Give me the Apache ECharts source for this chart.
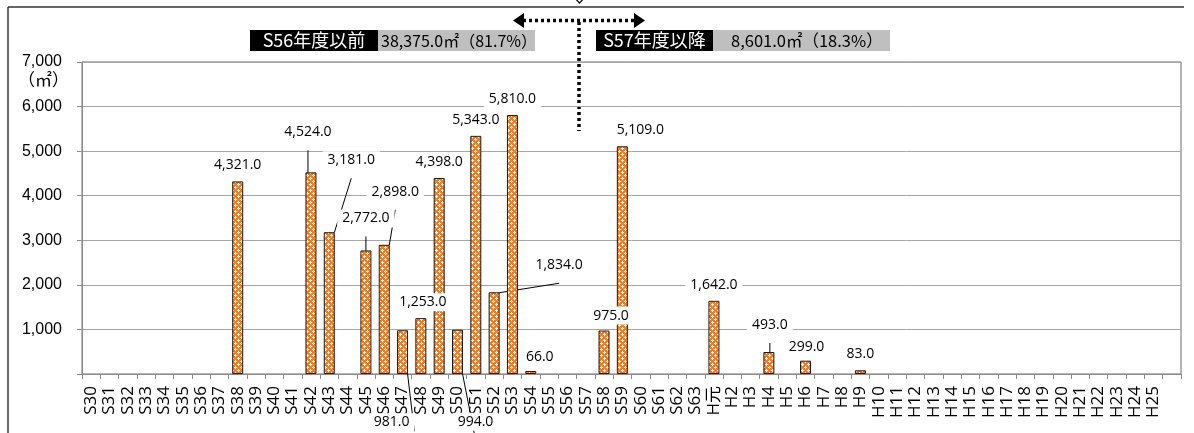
<!DOCTYPE html>
<html>
<head>
<meta charset="utf-8">
<script src="https://cdn.jsdelivr.net/npm/echarts@6/dist/echarts.min.js"></script>
<style>
  html, body { margin: 0; padding: 0; background: #fff; }
  #chart { width: 1194px; height: 433px; }
</style>
</head>
<body>
<div id="chart"></div>
<script>
  // 建築年度（最後は空の枠）
  const categories = [
    'S30', 'S31', 'S32', 'S33', 'S34', 'S35', 'S36', 'S37', 'S38', 'S39',
    'S40', 'S41', 'S42', 'S43', 'S44', 'S45', 'S46', 'S47', 'S48', 'S49',
    'S50', 'S51', 'S52', 'S53', 'S54', 'S55', 'S56', 'S57', 'S58', 'S59',
    'S60', 'S61', 'S62', 'S63', 'H元', 'H2', 'H3', 'H4', 'H5', 'H6',
    'H7', 'H8', 'H9', 'H10', 'H11', 'H12', 'H13', 'H14', 'H15', 'H16',
    'H17', 'H18', 'H19', 'H20', 'H21', 'H22', 'H23', 'H24', 'H25', ''
  ];

  // 延床面積（㎡）
  const areas = [
    null, null, null, null, null, null, null, null, 4321, null,
    null, null, 4524, 3181, null, 2772, 2898, 981, 1253, 4398,
    994, 5343, 1834, 5810, 66, null, null, null, 975, 5109,
    null, null, null, null, 1642, null, null, 493, null, 299,
    null, null, 83, null, null, null, null, null, null, null,
    null, null, null, null, null, null, null, null, null, null
  ];

  const yTicks = [0, 1000, 2000, 3000, 4000, 5000, 6000, 7000];

  // 新耐震の境目
  const boundaryYear = 'S57';

  // ラベルの移動量 [dx, dy, 引き出し線]
  const labelMoves = {
    S42: [-3, -24, true],
    S43: [22, -56, true],
    S45: [0, -16, true],
    S46: [11, -37, true],
    S47: [-11, 108, true],
    S48: [2, 0],
    S50: [18, 108, true],
    S52: [65, -11, true],
    S54: [9, 2],
    S58: [7, 1],
    S59: [18, 0],
    H4: [1, -11, true],
    H6: [1, 2]
  };

  const fmt1 = v => v.toLocaleString('en-US', { minimumFractionDigits: 1, maximumFractionDigits: 1 });

  // 前後の合計
  const cut = categories.indexOf(boundaryYear);
  const sumBefore = areas.slice(0, cut).reduce((a, b) => a + (b || 0), 0);
  const sumAfter = areas.slice(cut).reduce((a, b) => a + (b || 0), 0);
  const total = sumBefore + sumAfter;
  const beforeText = fmt1(sumBefore) + '㎡（' + (sumBefore / total * 100).toFixed(1) + '%）';
  const afterText = fmt1(sumAfter) + '㎡（' + (sumAfter / total * 100).toFixed(1) + '%）';

  // 棒の網目模様
  function makePattern() {
    const c = document.createElement('canvas');
    c.width = 6;
    c.height = 6;
    const ctx = c.getContext('2d');
    ctx.fillStyle = '#EF7E2E';
    ctx.fillRect(0, 0, 6, 6);
    ctx.fillStyle = '#ffffff';
    [[1, 0], [0, 1], [1, 1], [2, 1], [1, 2], [4, 3], [3, 4], [4, 4], [5, 4], [4, 5]].forEach(p => {
      ctx.fillRect(p[0], p[1], 1, 1);
    });
    return c;
  }

  const barData = areas.map((v, i) => {
    const m = labelMoves[categories[i]];
    if (v == null) return null;
    const item = { value: v };
    if (m) {
      item.label = { offset: [m[0], m[1]] };
      item.labelLine = { show: !!m[2] };
    }
    return item;
  });

  const cjk = '"Noto Sans CJK JP", "Noto Sans", sans-serif';

  const myChart = echarts.init(document.getElementById('chart'));

  const option = {
    animation: false,
    backgroundColor: '#fff',
    grid: {
      left: 82,
      right: 13,
      top: 62,
      bottom: 59,
      show: true,
      borderColor: '#6f6f6f',
      borderWidth: 1,
      containLabel: false,
      outerBoundsMode: 'none'
    },
    xAxis: {
      type: 'category',
      data: categories,
      axisLine: { lineStyle: { color: '#8c8c8c' } },
      axisTick: { show: true, length: 5, lineStyle: { color: '#8c8c8c' } },
      axisLabel: {
        interval: 0,
        rotate: 90,
        margin: 12,
        fontSize: 17,
        color: '#000',
        fontFamily: '"Open Sans", "Noto Sans CJK JP", sans-serif'
      }
    },
    yAxis: {
      type: 'value',
      min: yTicks[0],
      max: yTicks[yTicks.length - 1],
      interval: yTicks[1] - yTicks[0],
      axisLine: { show: true, lineStyle: { color: '#8c8c8c' } },
      axisTick: { show: true, length: 5, lineStyle: { color: '#8c8c8c' } },
      splitLine: { lineStyle: { color: '#a6a6a6' } },
      axisLabel: {
        margin: 20,
        fontSize: 16,
        color: '#000',
        fontFamily: '"Liberation Sans", Arial, sans-serif',
        formatter: v => (v === 0 ? '' : v.toLocaleString('en-US'))
      }
    },
    series: [
      {
        type: 'bar',
        data: barData,
        barWidth: 11,
        itemStyle: {
          color: { image: makePattern(), repeat: 'repeat' },
          borderColor: '#1a1a1a',
          borderWidth: 1
        },
        label: {
          show: true,
          position: 'top',
          distance: 7,
          fontSize: 14,
          color: '#000',
          fontFamily: '"Open Sans", sans-serif',
          backgroundColor: '#fff',
          padding: [2, 5],
          formatter: p => fmt1(p.value)
        },
        labelLine: {
          show: false,
          length2: 0,
          lineStyle: { color: '#000', width: 1 }
        }
      }
    ],
    graphic: [
      // 外枠
      { type: 'line', shape: { x1: 8, y1: 7, x2: 1184, y2: 7 }, style: { stroke: '#333', lineWidth: 1.5 } },
      { type: 'line', shape: { x1: 8, y1: 7, x2: 8, y2: 433 }, style: { stroke: '#333', lineWidth: 1.5 } },
      // 上の小さな印
      { type: 'polyline', shape: { points: [[573, -4], [579.5, 3], [586, -4]] }, style: { stroke: '#000', fill: '#fff', lineWidth: 1.2 } },
      // 単位
      {
        type: 'text', x: 69, y: 71,
        style: { text: '（㎡）', align: 'right', verticalAlign: 'top', fontSize: 17, fontFamily: cjk, fill: '#000' }
      },
      // S56年度以前
      { type: 'rect', shape: { x: 250, y: 30, width: 128, height: 21 }, style: { fill: '#000' } },
      {
        type: 'text', x: 314, y: 40.5,
        style: { text: 'S56年度以前', align: 'center', verticalAlign: 'middle', fontSize: 18, fontFamily: cjk, fill: '#fff' }
      },
      { type: 'rect', shape: { x: 378, y: 30, width: 157, height: 21 }, style: { fill: '#bfbfbf' } },
      {
        type: 'text', x: 381, y: 41,
        style: { text: beforeText, align: 'left', verticalAlign: 'middle', fontSize: 16, fontFamily: cjk, fill: '#000' }
      },
      // S57年度以降
      { type: 'rect', shape: { x: 596, y: 30, width: 117, height: 21 }, style: { fill: '#000' } },
      {
        type: 'text', x: 654.5, y: 40.5,
        style: { text: 'S57年度以降', align: 'center', verticalAlign: 'middle', fontSize: 18, fontFamily: cjk, fill: '#fff' }
      },
      { type: 'rect', shape: { x: 713, y: 30, width: 177, height: 21 }, style: { fill: '#bfbfbf' } },
      {
        type: 'text', x: 731, y: 41,
        style: { text: afterText, align: 'left', verticalAlign: 'middle', fontSize: 16.5, fontFamily: cjk, fill: '#000' }
      },
      // 点線の矢印
      { type: 'line', shape: { x1: 523, y1: 20.5, x2: 634, y2: 20.5 }, style: { stroke: '#000', lineWidth: 3.5, lineDash: [3, 3] } },
      { type: 'line', shape: { x1: 579, y1: 22, x2: 579, y2: 131 }, style: { stroke: '#000', lineWidth: 3.5, lineDash: [3, 3] } },
      { type: 'polygon', shape: { points: [[513, 20.5], [524, 13], [524, 28]] }, style: { fill: '#000' } },
      { type: 'polygon', shape: { points: [[645, 20.5], [634, 13], [634, 28]] }, style: { fill: '#000' } }
    ]
  };

  myChart.setOption(option);

  window.addEventListener('resize', () => {
    myChart.resize();
  });
</script>
</body>
</html>
